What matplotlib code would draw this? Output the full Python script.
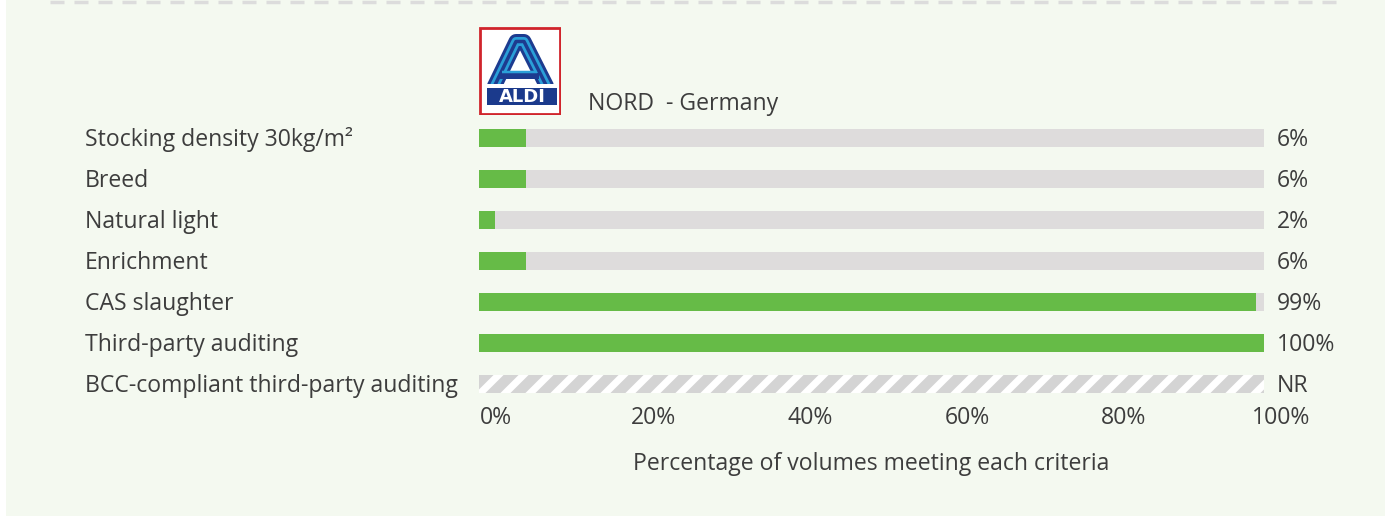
import numpy as np
import matplotlib
matplotlib.use("Agg")
import matplotlib.pyplot as plt
from matplotlib.patches import Rectangle, Polygon
from matplotlib.transforms import ScaledTranslation

plt.rcParams['font.family'] = ['Open Sans', 'DejaVu Sans']

# data
criteria = ["Stocking density 30kg/m\u00b2", "Breed", "Natural light", "Enrichment",
            "CAS slaughter", "Third-party auditing", "BCC-compliant third-party auditing"]
values = [6, 6, 2, 6, 99, 100, None]   # None = not reported
value_labels = ["6%", "6%", "2%", "6%", "99%", "100%", "NR"]
tick_vals = [0, 20, 40, 60, 80, 100]
tick_labels = ["0%", "20%", "40%", "60%", "80%", "100%"]
retailer = "NORD  - Germany"
xlabel = "Percentage of volumes meeting each criteria"

W, H = 1389, 516
green = "#66bb47"
track = "#dedcdc"
stripe = "#d4d4d4"
txt = "#3d3d3d"
panel = "#f4f9f0"
fs = 16.6

fig = plt.figure(figsize=(W / 100, H / 100), dpi=100)
fig.patch.set_facecolor("white")
down = ScaledTranslation(0, -2 / 100, fig.dpi_scale_trans)  # small nudge for text

# light green panel + dashed rule on top
fig.patches.append(Rectangle((6 / W, 0), (1385 - 6) / W, 1, transform=fig.transFigure,
                             facecolor=panel, edgecolor="none", zorder=-10))
fig.add_artist(plt.Line2D([50 / W, 1344 / W], [1 - 1.5 / H, 1 - 1.5 / H], transform=fig.transFigure,
                          color="#dcdcdc", lw=2.5, linestyle=(0, (14 * 0.72 / 2.5, 10 * 0.72 / 2.5))))

# main axes: x 0..100 spans px 479..1264, rows spaced 41 px starting at 138
top_px, row_h = 138 - 20.5, 41
n = len(criteria)
ax = fig.add_axes([479 / W, 1 - (top_px + n * row_h) / H, 785 / W, n * row_h / H])
ax.set_facecolor("none")
ax.set_xlim(0, 100)
ax.set_ylim(n - 0.5, -0.5)
for s in ax.spines.values():
    s.set_visible(False)

bh = 0.46
for i, v in enumerate(values):
    if v is None:
        # hatched "not reported" bar
        rect = Rectangle((0, i - bh / 2), 100, bh, facecolor="white", edgecolor="none")
        ax.add_patch(rect)
        period, gw, shift = 25 / 7.85, 15 / 7.85, 19 / 7.85
        x0 = -shift
        while x0 < 100:
            poly = Polygon([(x0, i + bh / 2), (x0 + gw, i + bh / 2),
                            (x0 + gw + shift, i - bh / 2), (x0 + shift, i - bh / 2)],
                           closed=True, facecolor=stripe, edgecolor="none")
            ax.add_patch(poly)
            poly.set_clip_path(rect)
            x0 += period
    else:
        ax.barh(i, 100, height=bh, color=track, edgecolor="none")
        ax.barh(i, v, height=bh, color=green, edgecolor="none")
    ax.text(101.6, i, value_labels[i], ha="left", va="center", fontsize=fs, color=txt,
            transform=ax.transData + down)
    fig.text(85 / W, 1 - (138 + i * row_h) / H, criteria[i], ha="left", va="center",
             fontsize=fs, color=txt, transform=fig.transFigure + down)

ax.set_yticks([])
ax.set_xticks(tick_vals)
ax.set_xticklabels(tick_labels, fontsize=fs, color=txt)
ax.tick_params(axis="x", length=0, pad=1)
for lab in ax.get_xticklabels():
    lab.set_transform(lab.get_transform() + ScaledTranslation(17 / 100, 0, fig.dpi_scale_trans))
ax.set_xlabel(xlabel, fontsize=fs, color=txt, labelpad=16)

fig.text(588 / W, 1 - 102 / H, retailer, ha="left", va="center", fontsize=fs, color=txt,
         transform=fig.transFigure + down)

# ALDI Nord logo, drawn in box pixel coords
lg = fig.add_axes([479 / W, 1 - 115 / H, 82 / W, 88 / H])
lg.set_xlim(0, 82)
lg.set_ylim(88, 0)
lg.axis("off")
lg.add_patch(Rectangle((1, 1), 80, 86, facecolor="white", edgecolor="#d0242b", lw=2.0))
dark, light = "#1d3b8f", "#2a9fd8"
clip = Rectangle((0, 0), 82, 57, transform=lg.transData)
path_x = [15, 37, 45, 68]
path_y = [60, 14.5, 14.5, 60]
for lw_px, col in [(15, dark), (9, light), (3.5, dark)]:
    ln, = lg.plot(path_x, path_y, color=col, lw=lw_px * 0.72, solid_joinstyle="round",
                  solid_capstyle="butt")
    ln.set_clip_path(clip)
lg.plot([21, 60], [48.5, 48.5], color=dark, lw=6 * 0.72, solid_capstyle="butt")
lg.plot([23, 58], [45, 45], color=light, lw=2.5 * 0.72, solid_capstyle="butt")
lg.add_patch(Rectangle((8, 60.5), 70, 17.5, facecolor="#1b3a8c", edgecolor="none"))
lg.text(43, 70, "ALDI", ha="center", va="center", color="white", fontsize=13,
        fontweight="bold", family="DejaVu Sans")

fig.savefig("out.png", dpi=100, facecolor=fig.get_facecolor())
